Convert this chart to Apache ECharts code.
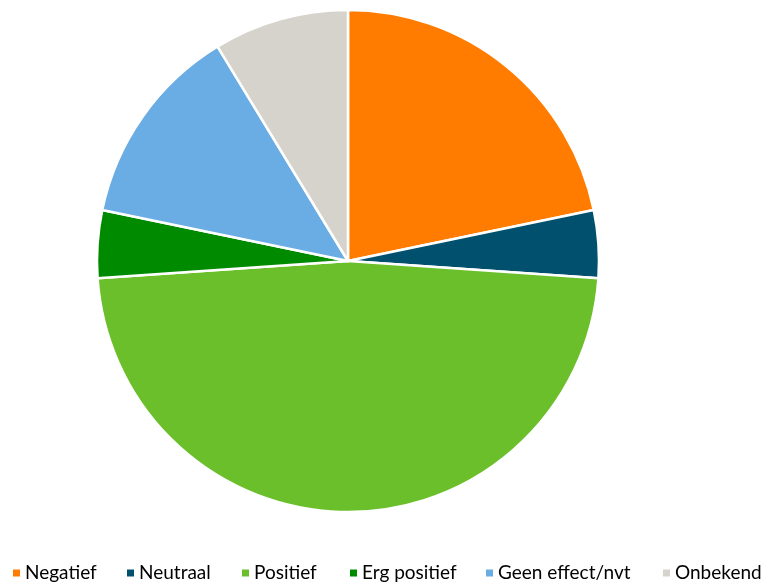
<!DOCTYPE html>
<html><head><meta charset="utf-8">
<script src="https://cdn.jsdelivr.net/npm/echarts@6/dist/echarts.min.js"></script>
<style>html,body{margin:0;padding:0;background:#fff}#c{width:769px;height:583px}</style>
</head><body><div id="c"></div>
<script>
const categories = ['Negatief','Neutraal','Positief','Erg positief','Geen effect/nvt','Onbekend'];
const values = [5,1,11,1,3,2];
const colors = ['#FF7C00','#00506E','#6ABF2A','#008A00','#6AADE4','#D6D3CC'];
const legendLeft = [11,125,240,348,484,661];
const chart = echarts.init(document.getElementById('c'));
chart.setOption({
  animation:false,
  color:colors,
  legend: categories.map((n,i)=>({
    left:legendLeft[i], top:563, padding:0,
    icon:'rect', itemWidth:9, itemHeight:9, itemGap:6,
    selectedMode:false,
    textStyle:{fontFamily:'Lato', fontSize:19, color:'#000', padding:[0,0,0,-1], lineHeight:20},
    data:[n]
  })),
  series:[{
    type:'pie',
    center:[348,261],
    radius:[0,251],
    startAngle:90,
    clockwise:true,
    label:{show:false},
    labelLine:{show:false},
    itemStyle:{borderColor:'#fff', borderWidth:2.5},
    emphasis:{disabled:true},
    data:categories.map((n,i)=>({name:n,value:values[i]}))
  }]
});
</script></body></html>
